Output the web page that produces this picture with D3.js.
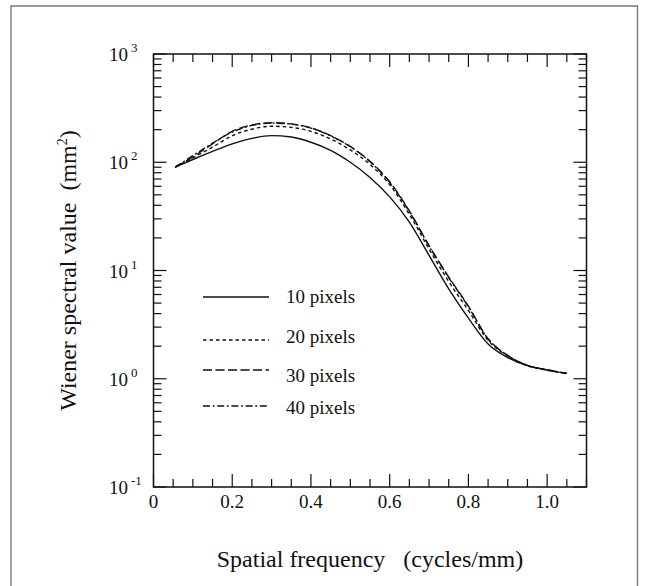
<!DOCTYPE html>
<html><head><meta charset="utf-8">
<script src="https://cdn.jsdelivr.net/npm/d3@7"></script>
<style>body{margin:0;background:#fff}svg{display:block}</style>
</head><body><div id="chart"></div>
<script>
const freq = [0.055,0.1,0.15,0.2,0.25,0.3,0.35,0.4,0.45,0.5,0.55,0.6,0.65,0.7,0.75,0.8,0.85,0.9,0.95,1.0,1.05];
const px10 = [90,106,126,148,166,176,171,153,129,100,72.4,47.9,28,13.8,6.76,3.63,2.09,1.57,1.32,1.20,1.12];
const px20 = [90,110,138,176,202,215,210,193,164,130,95.5,62,33,15.8,7.9,4.27,2.26,1.62,1.32,1.20,1.12];
const px30 = [90,112,148,193,221,232,226,208,176,140,102,66,35.5,17,8.7,4.68,2.34,1.64,1.33,1.21,1.12];
const px40 = [90,115,150,190,219,230,225,207,175,139,101,65,35,16.8,8.6,4.62,2.33,1.64,1.33,1.21,1.12];
const seriesNames = ["10 pixels","20 pixels","30 pixels","40 pixels"];
const xTickLabels = ["0","0.2","0.4","0.6","0.8","1.0"];
const yDecades = [-1,0,1,2,3];

const W=645,H=586;
const FONT='"Liberation Serif","Times New Roman",Tinos,"DejaVu Serif","Noto Serif",serif';
const m={l:153.5,r:586.5,t:54,b:487};
const svg=d3.select("#chart").append("svg").attr("width",W).attr("height",H)
  .attr("font-family",FONT).style("font-family",FONT);
// outer frame
svg.append("path").attr("d",`M11,${H+5}V6H637.5V${H+5}`).attr("fill","none").attr("stroke","#7a7a7a").attr("stroke-width",1.4);

const x=d3.scaleLinear().domain([0,1.1]).range([m.l,m.r]);
const y=d3.scaleLog().domain([0.1,1000]).range([m.b,m.t]);

const g=svg.append("g");
const xMinor=d3.range(0,23).map(i=>i*0.05);
const yMinor=[];
yDecades.slice(0,-1).forEach(e=>{for(let k=2;k<=9;k++)yMinor.push(k*Math.pow(10,e));});
const yMajor=yDecades.map(e=>Math.pow(10,e));

const tk=g.append("g").attr("stroke","#111").attr("stroke-width",1.2);
xMinor.forEach((v,i)=>{
  const L=(i%4===0)?13:8;
  tk.append("line").attr("x1",x(v)).attr("x2",x(v)).attr("y1",m.b).attr("y2",m.b-L);
  tk.append("line").attr("x1",x(v)).attr("x2",x(v)).attr("y1",m.t).attr("y2",m.t+L);
});
yMinor.concat(yMajor).forEach(v=>{
  const L=yMajor.includes(v)?13:8;
  tk.append("line").attr("y1",y(v)).attr("y2",y(v)).attr("x1",m.l).attr("x2",m.l+L);
  tk.append("line").attr("y1",y(v)).attr("y2",y(v)).attr("x1",m.r).attr("x2",m.r-L);
});
g.append("rect").attr("x",m.l).attr("y",m.t).attr("width",m.r-m.l).attr("height",m.b-m.t)
 .attr("fill","none").attr("stroke","#111").attr("stroke-width",1.5);

// x tick labels
xTickLabels.forEach((t,i)=>{
  g.append("text").attr("x",x(i*0.2)).attr("y",m.b+21).attr("text-anchor","middle")
   .attr("font-size",19).attr("fill","#111").text(t);
});
// y tick labels
yDecades.forEach(e=>{
  const t=g.append("text").attr("x",109).attr("y",y(Math.pow(10,e))+7).attr("font-size",19).attr("fill","#111");
  t.append("tspan").text("10");
  t.append("tspan").attr("dx",3).attr("dy",-9).attr("font-size",13).text(String(e));
});

// titles
svg.append("text").attr("x",(m.l+m.r)/2).attr("y",567).attr("text-anchor","middle")
  .attr("font-size",24).attr("fill","#111").style("white-space","pre").text("Spatial frequency   (cycles/mm)");
const yt=svg.append("text").attr("transform",`translate(76,${(m.t+m.b)/2}) rotate(-90)`)
  .attr("text-anchor","middle").attr("font-size",24).attr("fill","#111").style("white-space","pre");
yt.append("tspan").text("Wiener spectral value  (mm");
yt.append("tspan").attr("dy",-9).attr("font-size",14).text("2");
yt.append("tspan").attr("dy",9).text(")");

// curves
const dashes=[null,"3.5,3","9,3.5","7,2.7,1.8,2.7"];
const allSeries=[px10,px20,px30,px40];
const line=d3.line().x(d=>x(d[0])).y(d=>y(d[1])).curve(d3.curveMonotoneX);
allSeries.forEach((s,i)=>{
  g.append("path").datum(freq.map((f,j)=>[f,s[j]])).attr("d",line)
   .attr("fill","none").attr("stroke","#111").attr("stroke-width",1.4)
   .attr("stroke-dasharray",dashes[i]);
});
// legend
const legLineY=[297,340,370,406];
const legTextY=[297,337,376,408];
seriesNames.forEach((n,i)=>{
  g.append("line").attr("x1",203).attr("x2",269).attr("y1",legLineY[i]).attr("y2",legLineY[i])
   .attr("stroke","#111").attr("stroke-width",1.4).attr("stroke-dasharray",dashes[i]);
  g.append("text").attr("x",286).attr("y",legTextY[i]+6).attr("font-size",19).attr("fill","#111").text(n);
});
</script></body></html>
